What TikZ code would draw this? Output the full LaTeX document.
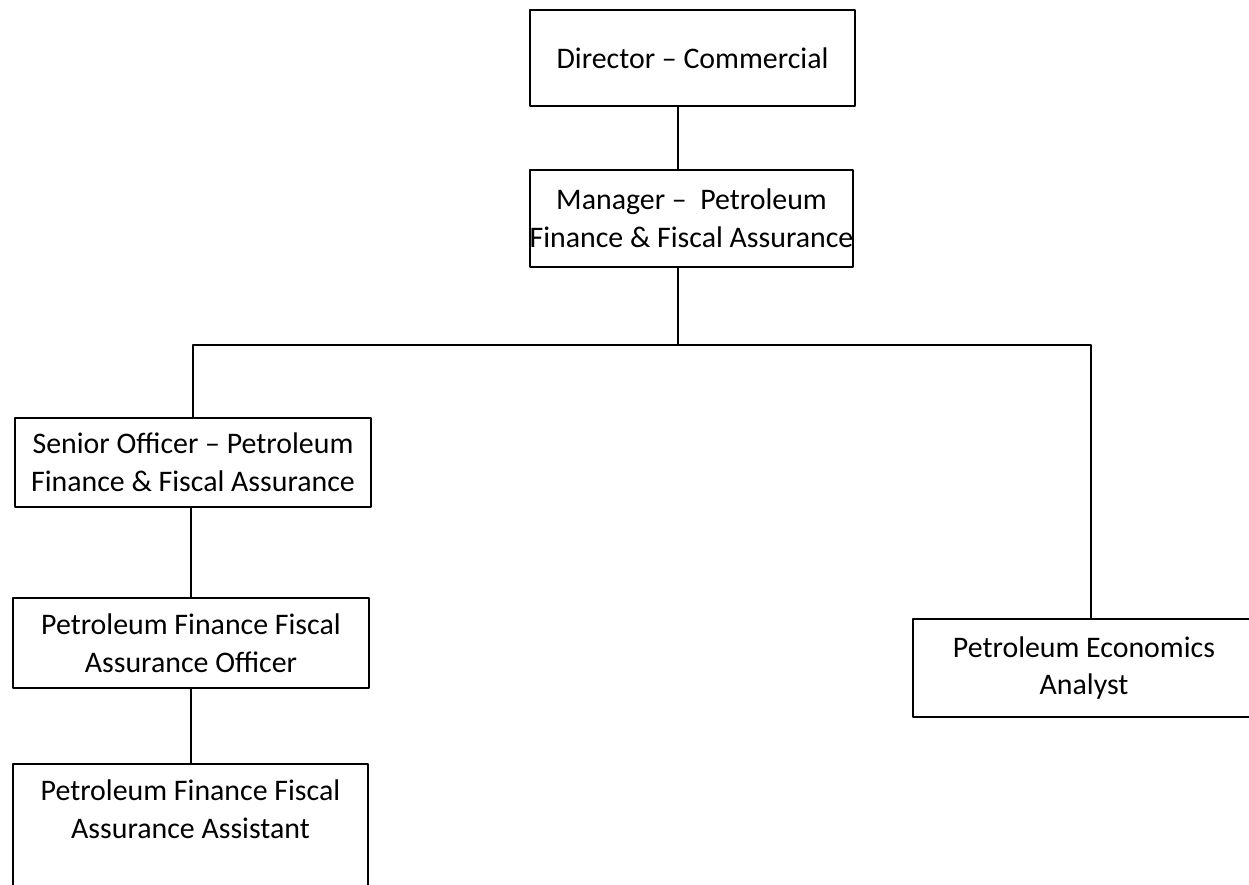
\documentclass[tikz,border=0pt]{standalone}
\usepackage{fontspec}
\setmainfont{Carlito}
\begin{document}
\begin{tikzpicture}[x=0.02cm, y=-0.02cm, line join=round, line width=1.1pt,
	post/.style={draw, rectangle, align=center, inner sep=0pt, font=\fontsize{17}{21.5}\selectfont}]
	\useasboundingbox (0,0) rectangle (1249,885);
	\clip (0,0) rectangle (1249,885);
	\path
	(692.5,58) node[post, minimum width=6.5cm, minimum height=1.92cm] (dir) {Director -- Commercial}
	(691.5,218.5) node[post, minimum width=6.46cm, minimum height=1.94cm] (mgr) {Manager --\ \ Petroleum\\Finance \& Fiscal Assurance}
	(193,462.5) node[post, minimum width=7.12cm, minimum height=1.78cm] (senior) {Senior Officer -- Petroleum\\Finance \& Fiscal Assurance}
	(191,643) node[post, minimum width=7.12cm, minimum height=1.8cm] (officer) {Petroleum Finance Fiscal\\Assurance Officer}
	(190.5,763) node[post, anchor=north, minimum width=7.1cm, inner ysep=0.32cm, text depth=1cm] (assistant) {Petroleum Finance Fiscal\\Assurance Assistant}
	(1084,668) node[post, minimum width=6.84cm, minimum height=1.96cm] (analyst) {Petroleum Economics\\Analyst}
	;
	\coordinate (bus) at (678,345);
	\draw (dir.south -| bus) -- (mgr.north -| bus);
	\draw (mgr.south -| bus) -- (bus);
	\draw (senior.north) -- (senior.north |- bus) -- ([xshift=4pt]analyst.north |- bus) -- ([xshift=4pt]analyst.north);
	\draw (officer.north |- senior.south) -- (officer.north);
	\draw (officer.south) -- (officer.south |- assistant.north);
\end{tikzpicture}
\end{document}
